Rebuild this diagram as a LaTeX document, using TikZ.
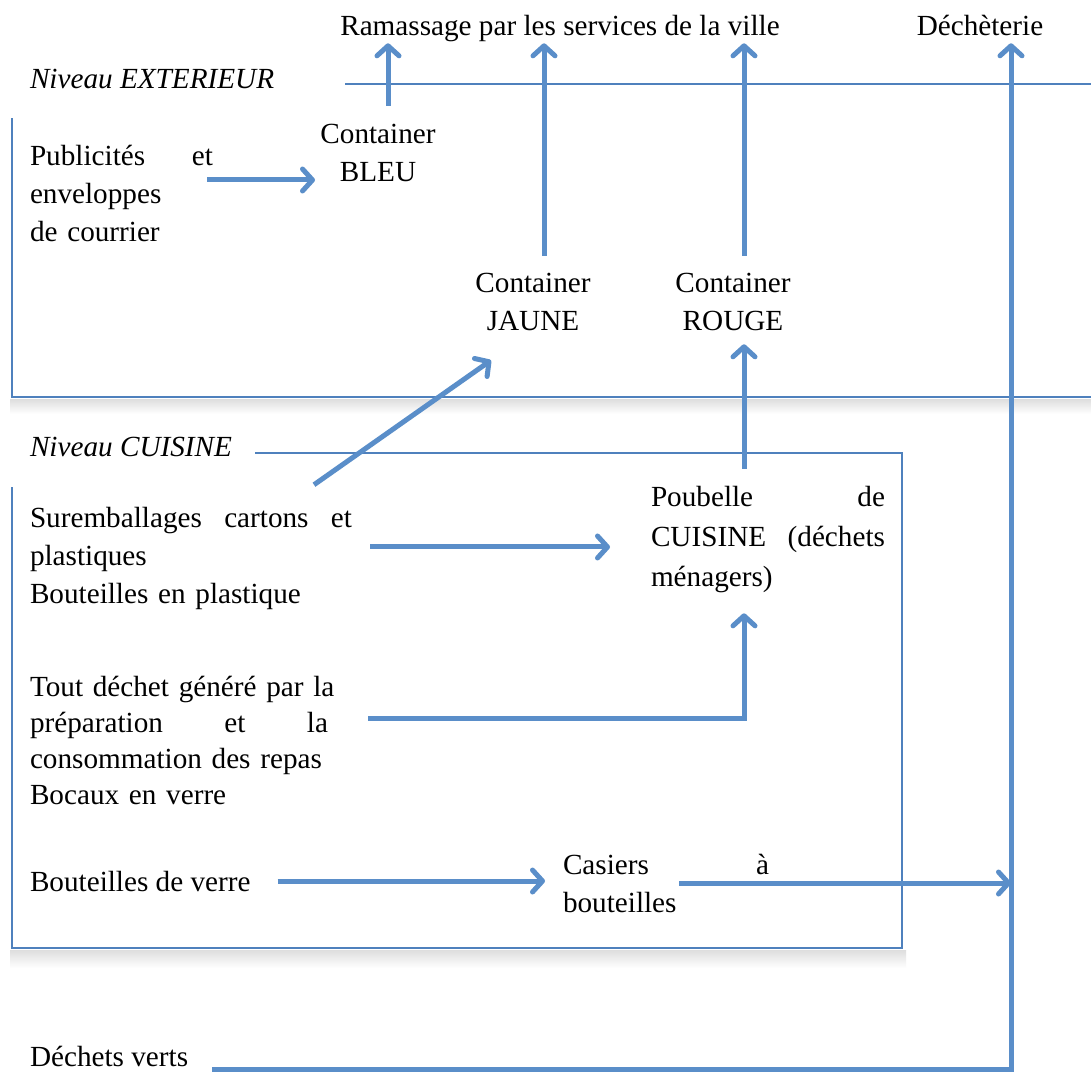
\documentclass[tikz,border=0pt]{standalone}
\usepackage{fontspec}
\setmainfont{Liberation Serif}
\usetikzlibrary{arrows.meta, calc}

\definecolor{arrblue}{RGB}{90,142,201}
\definecolor{frameblue}{RGB}{79,129,189}
\newcommand{\txtsize}{\fontsize{14.6pt}{19pt}\selectfont}

\begin{document}
\begin{tikzpicture}[
  x=0.5pt, y=-0.5pt,
  lbl/.style={inner sep=0pt, outer sep=0pt, font=\txtsize, anchor=base west},
  para/.style={lbl, text width=#1, align=left},
  cont/.style={inner sep=0pt, outer sep=0pt, font=\txtsize, anchor=base,
               text width=60pt, align=center},
  arr/.style={-{Straight Barb[length=5pt, width=11pt, round]}, line width=2.5pt, arrblue},
  lvlframe/.style={draw=frameblue, line width=0.8pt},
  fshadow/.style={top color=black!13, bottom color=white, draw=none}
]

\fill[white] (0,0) rectangle (1091,1072);
\useasboundingbox (0,0) rectangle (1091,1072);

% level frames
\shade[fshadow] (10,399) rectangle (1091,414);
\shade[fshadow] (10,950) rectangle (906,968);
\draw[lvlframe] (345,84) -- (1091,84);
\draw[lvlframe] (12,118) -- (12,397) -- (1091,397);
\draw[lvlframe] (255,453) -- (902,453) -- (902,948) -- (12,948) -- (12,487);

\node[lbl, font=\txtsize\itshape] (lblext)  at (30,88)  {Niveau EXTERIEUR};
\node[lbl, font=\txtsize\itshape] (lblcuis) at (30,456) {Niveau CUISINE};

\node[lbl, anchor=base] (ramassage)  at (560,35) {Ramassage par les services de la ville};
\node[lbl, anchor=base] (decheterie) at (980,35) {Déchèterie};

\node[cont] (bleu)  at (378,143) {Container\\BLEU};
\node[cont] (jaune) at (533,292) {Container\\JAUNE};
\node[cont] (rouge) at (733,292) {Container\\ROUGE};

\node[para=91.5pt] (pub) at (30,165) {Publicités\hfill et\\enveloppes\\de courrier};

\node[para=161pt] (surem) at (30,527) {Suremballages\hfill cartons\hfill et\\plastiques\\Bouteilles en plastique};

\node[para=117pt, font=\fontsize{14.6pt}{20pt}\selectfont] (poubelle) at (651,506) {Poubelle\hfill de\\CUISINE\hfill (déchets\\ménagers)};

\node[para=149pt, font=\fontsize{14.6pt}{18pt}\selectfont] (tout) at (30,696) {Tout~déchet~généré~par~la\\préparation\hfill et\hfill la\\consommation des repas\\Bocaux en verre};

\node[lbl] (bverre) at (30,891) {Bouteilles de verre};
\node[para=103pt] (casiers) at (563,874) {Casiers\hfill à\\bouteilles};
\node[lbl] (verts) at (30,1066) {Déchets verts};

\coordinate (dtop) at ([shift={(31,8)}]decheterie.south);

% arrows
\draw[arr] ([shift={(10,-18)}]bleu.north) -- ([shift={(-172,2)}]ramassage.south);
\draw[arr] ([shift={(11,-17)}]jaune.north) -- ([shift={(-16,2)}]ramassage.south);
\draw[arr] ([shift={(11,-17)}]rouge.north) -- ([shift={(184,2)}]ramassage.south);
\draw[arr] ([shift={(-6,-13)}]pub.east) -- ($(pub.east -| bleu.west)+(-3,-13)$);
\draw[arr] ([shift={(-38,-22)}]surem.north east) -- ([shift={(18,30)}]jaune.south west);
\draw[arr] ([shift={(18,-11)}]surem.east) -- ($(surem.east -| poubelle.west)+(-41,-11)$);
\draw[arr] ([shift={(-24,-17)}]poubelle.north) -- ([shift={(11,14)}]rouge.south);
\draw[arr] ([shift={(40,-22)}]tout.east) -| ([shift={(-24,21)}]poubelle.south);
\draw[arr] ([xshift=13.5pt]bverre.east) -- ($(bverre.east -| casiers.west)+(-18,0)$);
\draw[arr] ([xshift=-45pt]casiers.east) -- (casiers.east -| dtop);
\draw[arr] ([shift={(24,13)}]verts.east) -| (dtop);

\end{tikzpicture}
\end{document}
